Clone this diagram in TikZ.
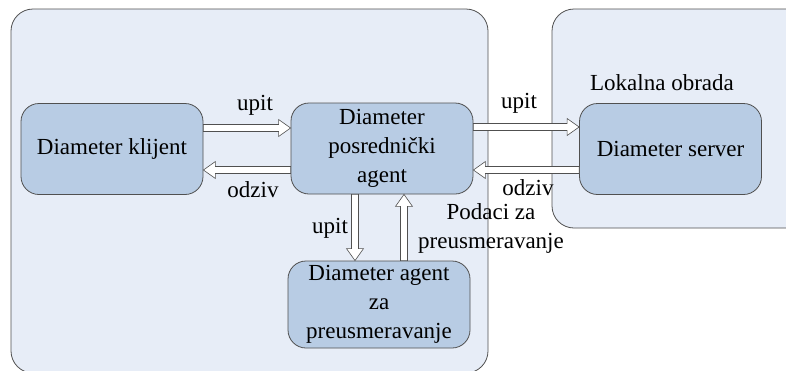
\documentclass[tikz,border=0pt]{standalone}
\usepackage{fontspec}
\setmainfont{Liberation Serif}
\usetikzlibrary{calc}
\definecolor{outerfill}{HTML}{E7EDF7}
\definecolor{boxfill}{HTML}{B8CCE4}
\definecolor{edge}{HTML}{505050}
\tikzset{
  container/.style={draw=edge, line width=0.8pt, fill=outerfill, rounded corners=22pt},
  box/.style={draw=edge, line width=0.8pt, fill=boxfill, rounded corners=18pt, minimum width=182pt, minimum height=91pt, align=center, inner sep=0pt},
  lbl/.style={align=center, inner sep=0pt},
  hollow/.style={draw=edge, line width=0.6pt, fill=white, line join=miter}
}
\newcommand\harr[2]{%
  \draw[hollow] let \p1=(#1), \p2=(#2), \n1={veclen(\x2-\x1,\y2-\y1)}, \n2={atan2(\y2-\y1,\x2-\x1)} in
  [shift={(\p1)}, rotate=\n2] (0pt,-3.5pt) -- ({\n1-12pt},-3.5pt) -- ({\n1-12pt},-8.5pt) -- (\n1,0pt) -- ({\n1-12pt},8.5pt) -- ({\n1-12pt},3.5pt) -- (0pt,3.5pt) -- cycle;}
\begin{document}
\begin{tikzpicture}[x=1pt, y=-1pt, font=\fontsize{23}{29}\selectfont]
\useasboundingbox (0,0) rectangle (786,370);
% containers
\path[container] (11,9) rectangle (488,373);
\path[container] (552,9) rectangle (812,228);
% boxes
\node[box] (cl) at (112,149) {Diameter klijent};
\node[box] (mid) at (382,148.5) {Diameter\\posrednički\\agent};
\node[box] (srv) at (670.5,149) {Diameter server};
\node[box, minimum height=87pt] (ag) at (379,304.5) {Diameter agent\\za\\preusmeravanje};
\node[lbl] (lok) at (662,83) {Lokalna obrada};
% arrow end points
\coordinate (c1a) at ($(cl.east)+(0,-21)$);
\coordinate (c1b) at (c1a -| mid.west);
\coordinate (c2a) at ($(cl.east)+(0,21)$);
\coordinate (c2b) at (c2a -| mid.west);
\coordinate (s1a) at ($(mid.east)+(0,-21.5)$);
\coordinate (s1b) at (s1a -| srv.west);
\coordinate (s2a) at ($(mid.east)+(0,21.5)$);
\coordinate (s2b) at (s2a -| srv.west);
\coordinate (d1a) at ($(mid.south)+(-27,0)$);
\coordinate (d1b) at (d1a |- ag.north);
\coordinate (d2a) at ($(mid.south)+(22,0)$);
\coordinate (d2b) at (d2a |- ag.north);
% arrows
\harr{c1a}{c1b}
\harr{c2b}{c2a}
\harr{s1a}{s1b}
\harr{s2b}{s2a}
\harr{d1a}{d1b}
\harr{d2b}{d2a}
% labels
\node[lbl] (l1) at (255,105) {upit};
\node[lbl] (l2) at (253,190) {odziv};
\node[lbl] (l3) at (519,103) {upit};
\node[lbl] (l4) at (528,188) {odziv};
\node[lbl] (l5) at (330,228) {upit};
\node[lbl] (l6) at (491,228) {Podaci za\\preusmeravanje};
\end{tikzpicture}
\end{document}
